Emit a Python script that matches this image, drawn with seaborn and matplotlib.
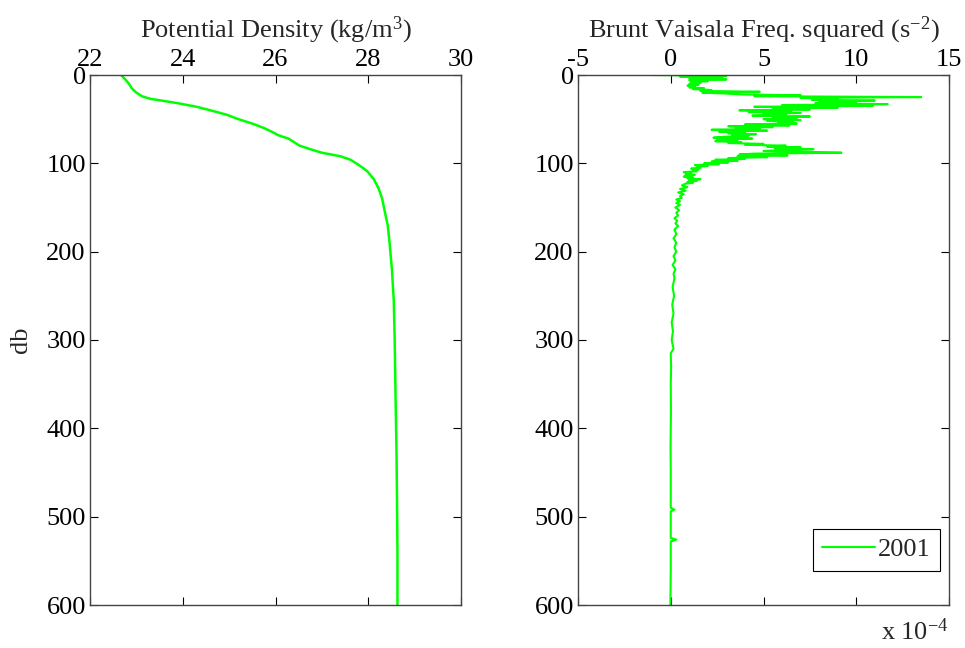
import numpy as np
import pandas as pd
import matplotlib
matplotlib.use("Agg")
import matplotlib.pyplot as plt
import seaborn as sns

# Potential density profile (kg/m^3) against pressure (db)
density_db = [0, 5, 10, 15, 20, 24, 27, 29, 32, 36, 40, 45, 50, 55, 60, 65, 68, 72,
              76, 80, 84, 88, 92, 96, 101, 105, 109, 118, 128, 140, 153, 170, 190,
              220, 255, 300, 368, 430, 481, 540, 600]
density = [22.67, 22.76, 22.84, 22.90, 23.00, 23.12, 23.30, 23.55, 23.90, 24.30,
           24.60, 24.95, 25.20, 25.50, 25.75, 25.95, 26.05, 26.28, 26.40, 26.52,
           26.75, 27.00, 27.40, 27.62, 27.77, 27.88, 27.98, 28.12, 28.22, 28.30,
           28.35, 28.42, 28.46, 28.51, 28.55, 28.57, 28.59, 28.61, 28.62, 28.63,
           28.63]

# Brunt-Vaisala frequency squared (units of 1e-4 s^-2)
n2_db = list(range(0, 124)) + [
    125, 127, 129, 131, 133, 135, 137, 139, 141, 143, 145, 147, 150, 153, 156,
    159, 162, 165, 168, 171, 175, 180, 185, 190, 195, 200, 205, 210, 215, 220,
    225, 230, 240, 250, 260, 270, 280, 290, 300, 310, 315, 330, 350, 380, 420,
    450, 490, 492, 494, 524, 526, 528, 560, 600]
n2 = [
    -1.0, 3.0, 0.5, 2.8, 1.0, 3.0, 1.0, 2.0, 1.1, 1.6,
    1.0, 1.5, 0.9, 1.3, 1.0, 1.8, 1.2, 2.2, 1.6, 4.8,
    1.7, 3.0, 3.8, 7.0, 4.5, 13.5, 7.0, 9.0, 7.6, 11.0,
    8.0, 10.0, 7.8, 11.7, 6.0, 10.9, 4.5, 9.0, 5.5, 7.5,
    3.7, 6.5, 4.2, 7.0, 5.0, 6.2, 4.4, 7.5, 5.5, 6.8,
    5.0, 7.0, 5.2, 6.6, 5.8, 6.8, 4.0, 6.4, 3.1, 5.5,
    3.5, 4.8, 2.2, 5.2, 2.6, 4.0, 3.1, 4.6, 3.3, 4.2,
    2.8, 2.3, 4.4, 2.5, 3.6, 2.4, 3.8, 3.1, 5.0, 4.0,
    6.2, 5.2, 7.0, 5.6, 7.7, 6.0, 5.0, 7.4, 9.2, 4.5,
    3.7, 6.3, 3.6, 5.2, 3.1, 4.0, 2.4, 3.6, 2.2, 3.1,
    1.8, 2.6, 1.3, 2.0, 1.4, 1.6, 1.1, 1.5, 1.2, 1.4,
    0.7, 1.1, 0.8, 1.3, 0.9, 0.7, 1.2, 0.9, 1.6, 1.0,
    1.4, 0.9, 1.2, 0.8,
    0.6, 0.9, 0.5, 0.8, 0.4, 0.7, 0.5, 0.6, 0.3, 0.5, 0.3, 0.5, 0.25, 0.45,
    0.3, 0.4, 0.2, 0.35, 0.25, 0.4, 0.2, 0.3, 0.15, 0.3, 0.2, 0.3, 0.15, 0.25,
    0.1, 0.25, 0.15, 0.2, 0.1, 0.18, 0.08, 0.15, 0.05, 0.12, 0.05, 0.15, 0.0,
    0.02, 0.0, 0.01, -0.01, 0.0, 0.0, 0.2, 0.0, 0.0, 0.3, 0.0, 0.0, -0.02]

year_label = "2001"
density_ticks = [22, 24, 26, 28, 30]
n2_ticks = [-5, 0, 5, 10, 15]
depth_ticks = [0, 100, 200, 300, 400, 500, 600]

sns.set_theme(style="ticks")
plt.rcParams["font.family"] = ["Liberation Serif", "DejaVu Serif"]
plt.rcParams["mathtext.fontset"] = "custom"
plt.rcParams["mathtext.rm"] = "Liberation Serif"
plt.rcParams["mathtext.it"] = "Liberation Serif:italic"
plt.rcParams["axes.unicode_minus"] = False

FS = 19
GREEN = "#00ff00"

fig = plt.figure(figsize=(9.65, 6.48), dpi=100)
ax1 = fig.add_axes([90 / 965, 43 / 648, 371 / 965, 530 / 648])
ax2 = fig.add_axes([578 / 965, 43 / 648, 371 / 965, 530 / 648])

df_rho = pd.DataFrame({"db": density_db, "rho": density})
df_n2 = pd.DataFrame({"db": n2_db, "n2": n2, "year": year_label})

sns.lineplot(data=df_rho, x="rho", y="db", orient="y", sort=False,
             estimator=None, color=GREEN, lw=1.8, ax=ax1)
sns.lineplot(data=df_n2, x="n2", y="db", orient="y", sort=False,
             estimator=None, color=GREEN, lw=1.5, ax=ax2, label=year_label)

for ax, xt, xlim in [(ax1, density_ticks, (22, 30)), (ax2, n2_ticks, (-5, 15))]:
    ax.set_xlim(*xlim)
    ax.set_ylim(600, 0)
    ax.set_xticks(xt)
    ax.set_yticks(depth_ticks)
    ax.xaxis.tick_top()
    ax.xaxis.set_label_position("top")
    ax.tick_params(axis="both", which="both", direction="in", length=6,
                   width=0.8, labelsize=FS, color="black", labelcolor="black",
                   top=True, bottom=True, left=True, right=True,
                   labeltop=True, labelbottom=False, pad=3)
    for s in ax.spines.values():
        s.set_visible(True)
        s.set_color("#444444")
        s.set_linewidth(1.0)
    ax.set_xlabel("")
    ax.set_ylabel("")
    ax.set_facecolor("white")

ax1.set_ylabel("db", fontsize=FS, labelpad=10)
ax1.set_title("Potential Density (kg/m$^3$)", fontsize=FS, pad=8)
ax2.set_title("Brunt Vaisala Freq. squared (s$^{-2}$)", fontsize=FS, pad=8)

ax2.text(1.0, -0.025, "x 10$^{-4}$", transform=ax2.transAxes, ha="right",
         va="top", fontsize=FS)

leg = ax2.legend(loc="lower right", bbox_to_anchor=(0.975, 0.065), fontsize=FS,
                 frameon=True, fancybox=False, handlelength=2.0,
                 borderpad=0.35, handletextpad=0.1, borderaxespad=0.0)
leg.get_frame().set_edgecolor("black")
leg.get_frame().set_linewidth(0.8)
leg.get_frame().set_alpha(1)

fig.savefig("out.png", dpi=100, facecolor="white")
